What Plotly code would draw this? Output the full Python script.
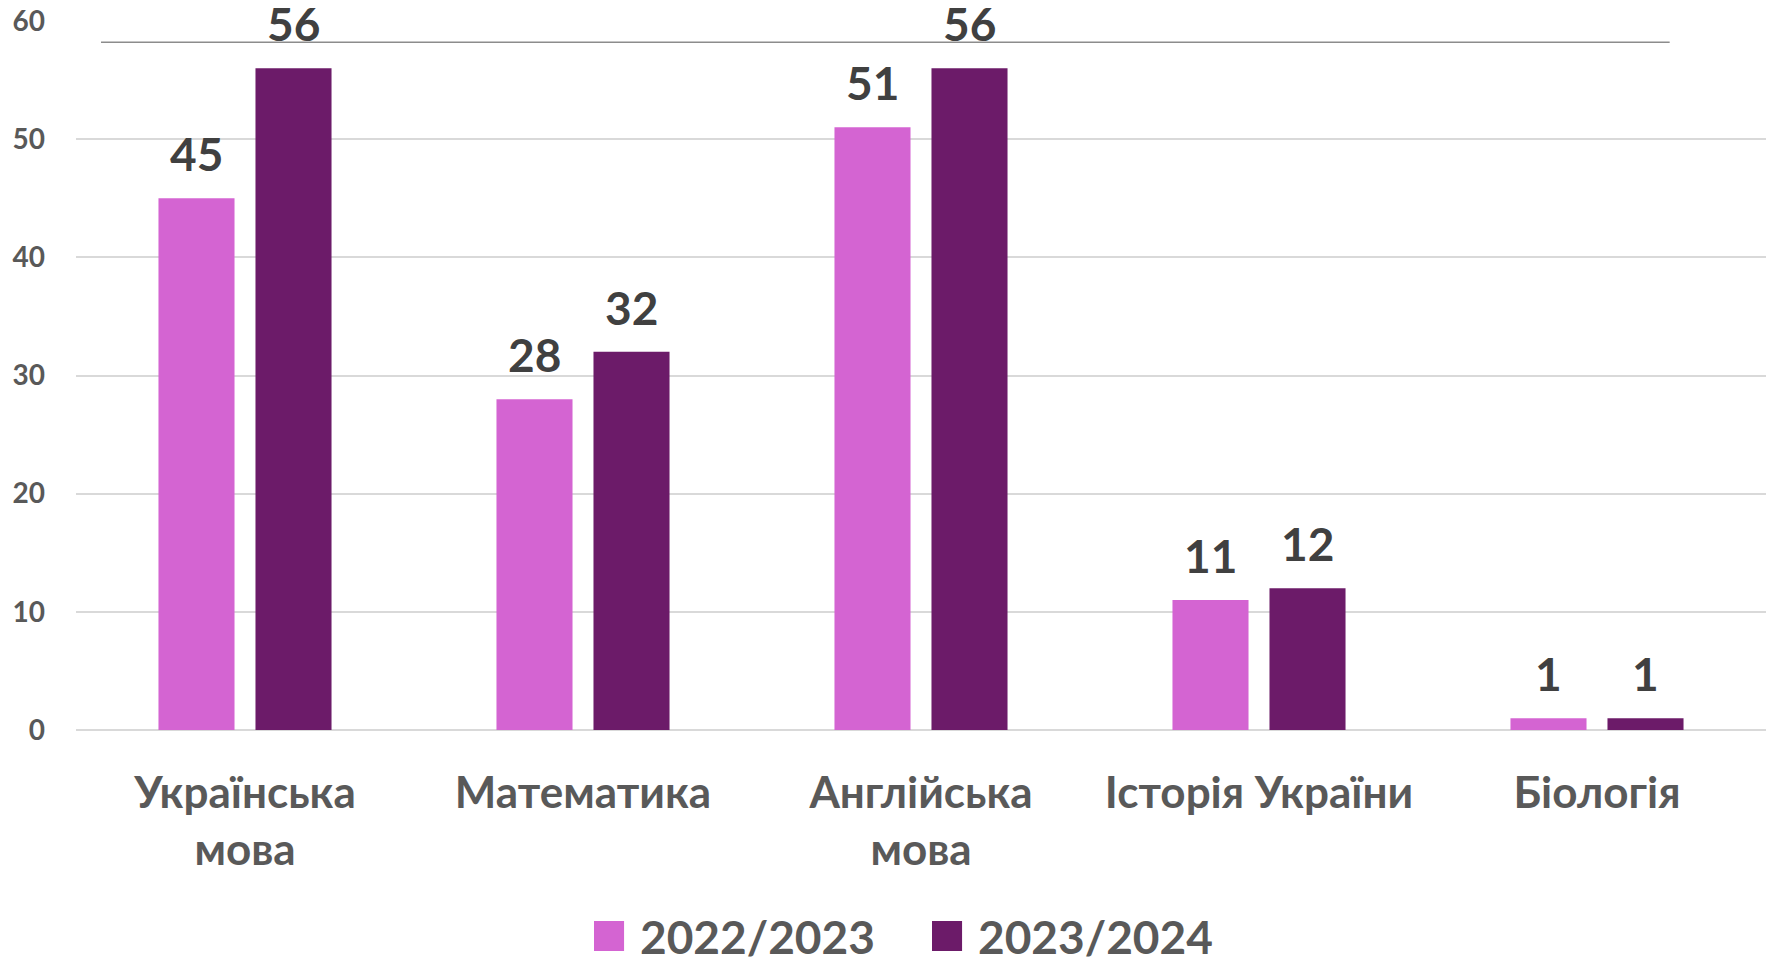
import plotly.graph_objects as go

categories = ["Українська<br>мова", "Математика", "Англійська<br>мова", "Історія України", "Біологія"]
series_names = ["2022/2023", "2023/2024"]
values_2022 = [45, 28, 51, 11, 1]
values_2023 = [56, 32, 56, 12, 1]
y_ticks = [0, 10, 20, 30, 40, 50, 60]

colors = ["#D464D2", "#6C1B69"]
FONT = "Lato"

fig = go.Figure()
for name, vals, col in zip(series_names, [values_2022, values_2023], colors):
    fig.add_trace(go.Bar(x=categories, y=vals, name=name, marker=dict(color=col, line=dict(width=0)),
                         hoverinfo="skip", showlegend=False))

# data labels
for vals, shift in zip([values_2022, values_2023], [-48.5, 48.5]):
    for c, v in zip(categories, vals):
        fig.add_annotation(x=c, y=v, text=str(v), showarrow=False, xshift=shift, yshift=15,
                           yanchor="bottom", font=dict(family=FONT, size=46, color="#404040", weight="bold"))

# decorative line near top
fig.add_shape(type="line", xref="paper", yref="paper", x0=0.0148, x1=0.943, y0=0.970, y1=0.970,
              line=dict(color="#8C8C8C", width=1.5))

# legend (squares + labels) below the chart
legend_x = [0.3065, 0.5065]
for name, col, lx in zip(series_names, colors, legend_x):
    fig.add_shape(type="rect", xref="paper", yref="paper", x0=lx, x1=lx + 0.0178, y0=-0.3117, y1=-0.2694,
                  fillcolor=col, line=dict(width=0))
    fig.add_annotation(xref="paper", yref="paper", x=lx + 0.0262, y=-0.2906, text=name, showarrow=False,
                       xanchor="left", yanchor="middle",
                       font=dict(family=FONT, size=46, color="#595959", weight="bold"))

fig.update_layout(
    width=1776, height=960,
    margin=dict(l=76, r=10, t=21, b=230),
    paper_bgcolor="white", plot_bgcolor="white",
    barmode="group", bargap=0.426, bargroupgap=0.216,
    font=dict(family=FONT, color="#595959"),
    showlegend=False,
)
fig.update_xaxes(showgrid=False, showline=False, zeroline=False, ticks="", automargin=False,
                 tickfont=dict(family=FONT, size=44, color="#595959", weight="bold"),
                 ticklabelstandoff=33)
fig.update_yaxes(range=[0, 60], tickvals=y_ticks, showgrid=True, gridcolor="#D9D9D9", gridwidth=1.5,
                 zeroline=True, zerolinecolor="#D9D9D9", zerolinewidth=1.5, showline=False, ticks="",
                 automargin=False,
                 tickfont=dict(family=FONT, size=28, color="#595959", weight="bold"),
                 ticklabelstandoff=30)

fig.write_html("out.html", config={"displayModeBar": False},
               post_script="document.body.style.margin='0';")
